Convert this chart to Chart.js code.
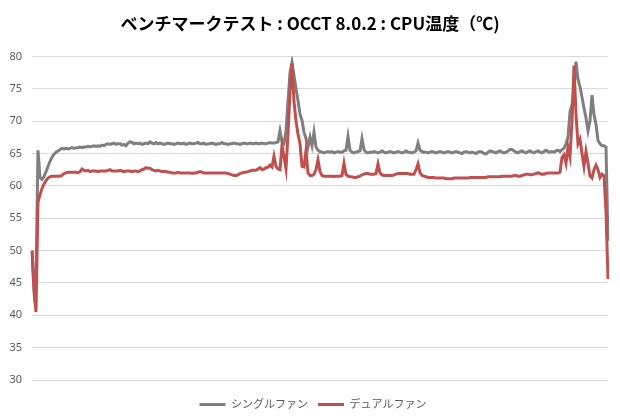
<!DOCTYPE html>
<html>
<head>
<meta charset="utf-8">
<script src="https://cdn.jsdelivr.net/npm/chart.js@4.4.1/dist/chart.umd.min.js"></script>
<style>
  html, body { margin: 0; padding: 0; background: #fff; }
  #wrap { width: 620px; height: 420px; }
</style>
</head>
<body>
<div id="wrap"><canvas id="myChart" width="620" height="420"></canvas></div>
<script>
// series names and y axis ticks
const seriesNames = ['シングルファン', 'デュアルファン'];
const yTicks = [30, 35, 40, 45, 50, 55, 60, 65, 70, 75, 80];

// CPU temperature samples (°C), single fan
const singleFan = [
    50, 44, 46, 65.5, 61.3, 61, 61.4, 62.2, 63, 63.8,
    64.4, 64.9, 65.2, 65.4, 65.6, 65.8, 65.7, 65.8, 65.7, 65.8,
    65.9, 65.8, 65.9, 65.9, 66, 65.9, 66, 66, 66.1, 66,
    66.1, 66.2, 66.1, 66.2, 66.1, 66.3, 66.2, 66.4, 66.5, 66.4,
    66.5, 66.6, 66.4, 66.5, 66.5, 66.3, 66.4, 66.2, 66.6, 66.8,
    66.7, 66.5, 66.6, 66.5, 66.6, 66.4, 66.5, 66.6, 66.5, 66.8,
    66.6, 66.5, 66.7, 66.5, 66.6, 66.5, 66.4, 66.5, 66.6, 66.5,
    66.5, 66.4, 66.5, 66.6, 66.5, 66.5, 66.6, 66.4, 66.5, 66.6,
    66.5, 66.5, 66.6, 66.7, 66.5, 66.5, 66.6, 66.4, 66.5, 66.5,
    66.6, 66.5, 66.4, 66.5, 66.5, 66.7, 66.5, 66.5, 66.4, 66.5,
    66.5, 66.6, 66.5, 66.5, 66.4, 66.5, 66.6, 66.5, 66.5, 66.6,
    66.5, 66.5, 66.6, 66.5, 66.5, 66.6, 66.5, 66.5, 66.6, 66.7,
    66.6, 66.6, 66.7, 66.8, 68.5, 66.8, 66.5, 68.5, 73, 77.5,
    79.1, 77, 75, 73.2, 71.1, 70.1, 68.3, 67.3, 66, 67.5,
    66.2, 68.3, 66, 65.5, 65.3, 65.2, 65.1, 65.2, 65.3, 65.2,
    65.3, 65.1, 65.2, 65.3, 65.2, 65.2, 65.4, 65.5, 67.6, 65.5,
    65.2, 65.1, 65.2, 65.3, 65.4, 67.3, 65.6, 65.2, 65.1, 65.2,
    65.2, 65.3, 65.2, 65.1, 65.2, 65.4, 65.2, 65.1, 65.2, 65.3,
    65.2, 65.1, 65.2, 65.3, 65.2, 65.1, 65.2, 65.4, 65.2, 65.2,
    65.1, 65.2, 65.4, 66.6, 65.5, 65.3, 65.2, 65.2, 65.1, 65.2,
    65.3, 65.2, 65.1, 65.2, 65.3, 65.2, 65.1, 65.2, 65.3, 65.2,
    65.1, 65.2, 65.3, 65.2, 65.1, 65, 65.2, 65.3, 65.2, 65.1,
    65.2, 65.1, 65, 65.2, 65.3, 65.2, 65, 64.9, 65.2, 65.4,
    65.3, 65.2, 65.1, 65.3, 65.4, 65.2, 65.1, 65.2, 65.4, 65.6,
    65.6, 65.4, 65.2, 65.1, 65.3, 65.4, 65.2, 65.1, 65.3, 65.4,
    65.2, 65.1, 65.3, 65.4, 65.2, 65.1, 65.3, 65.5, 65.3, 65.2,
    65.3, 65.2, 65.4, 65.5, 65.3, 65.6, 65.8, 66.5, 67.5, 71.5,
    72.5, 75, 79.2, 76.5, 75.3, 73.7, 72, 70.5, 68.5, 70,
    74, 71, 69.5, 67, 66.5, 66.2, 66.2, 66, 51.5
];

// CPU temperature samples (°C), dual fan
const dualFan = [
    50, 44, 40.5, 57.5, 58.6, 59.6, 60.3, 60.8, 61.2, 61.4,
    61.5, 61.5, 61.5, 61.5, 61.5, 61.6, 61.9, 62, 62.1, 62.1,
    62.1, 62.1, 62.1, 62, 62.2, 62.6, 62.4, 62.3, 62.4, 62.2,
    62.3, 62.3, 62.3, 62.2, 62.3, 62.3, 62.3, 62.3, 62.4, 62.5,
    62.3, 62.3, 62.3, 62.3, 62.4, 62.3, 62.2, 62.3, 62.3, 62.3,
    62.2, 62.3, 62.3, 62.2, 62.3, 62.5, 62.6, 62.8, 62.7, 62.7,
    62.5, 62.4, 62.3, 62.4, 62.3, 62.2, 62.2, 62.2, 62.1, 62.1,
    62, 62, 62, 62.1, 62, 62, 62, 62, 62, 62,
    61.9, 62, 62, 62.1, 62.2, 62.1, 62, 62, 62, 62,
    62, 62, 62, 62, 62, 62, 62, 62, 61.9, 61.8,
    61.7, 61.6, 61.6, 61.7, 61.9, 62, 62.1, 62.1, 62.2, 62.3,
    62.4, 62.4, 62.4, 62.6, 62.8, 62.5, 62.6, 62.8, 62.9, 63.2,
    62.9, 64.6, 63, 62.6, 62.5, 66.2, 64.5, 62.6, 68, 74.5,
    78.9, 73, 70, 68, 66.5, 63, 62.9, 65.5, 62, 61.6,
    61.6, 61.8, 62.5, 64, 62.2, 61.6, 61.5, 61.5, 61.5, 61.5,
    61.5, 61.4, 61.5, 61.5, 61.5, 61.6, 63.5, 61.8, 61.5, 61.4,
    61.4, 61.3, 61.3, 61.4, 61.5, 61.7, 61.8, 61.9, 61.9, 61.8,
    61.8, 61.8, 61.9, 63.4, 62, 61.7, 61.6, 61.6, 61.6, 61.6,
    61.6, 61.7, 61.8, 61.9, 61.9, 61.9, 61.9, 61.9, 61.9, 61.8,
    61.8, 61.8, 62.5, 63.4, 62, 61.6, 61.5, 61.4, 61.3, 61.3,
    61.3, 61.3, 61.2, 61.2, 61.2, 61.2, 61.2, 61.1, 61.1, 61.1,
    61.1, 61.2, 61.2, 61.2, 61.2, 61.2, 61.2, 61.2, 61.2, 61.3,
    61.3, 61.3, 61.3, 61.3, 61.3, 61.3, 61.3, 61.3, 61.4, 61.4,
    61.4, 61.4, 61.4, 61.4, 61.4, 61.5, 61.5, 61.5, 61.5, 61.5,
    61.5, 61.6, 61.6, 61.5, 61.5, 61.6, 61.7, 61.8, 61.8, 61.7,
    61.7, 61.8, 61.9, 62, 61.9, 61.8, 61.8, 61.9, 62, 62,
    62, 62, 62, 62, 62.1, 64.4, 64.8, 63.5, 66, 64.5,
    70, 78.6, 71, 66.5, 67.2, 65, 63, 65.3, 63.5, 61.5,
    61.2, 62.5, 63.2, 62.5, 61.3, 61.8, 61.6, 56, 45.6
];

// sample number, used only as the (hidden) x category
const sampleLabels = singleFan.map((v, i) => i + 1);

const labelFont = "'Noto Sans', 'Noto Sans CJK JP', sans-serif";

// nudge title and legend a little to the right, like the original image
const nudgeBlocks = {
    id: 'nudgeBlocks',
    afterLayout(chart) {
        if (chart.titleBlock) {
            chart.titleBlock.left += 6;
            chart.titleBlock.right += 6;
        }
        if (chart.legend) {
            chart.legend.left += 9;
            chart.legend.right += 9;
        }
    }
};

const config = {
    type: 'line',
    data: {
        labels: sampleLabels,
        datasets: [{
            label: seriesNames[0],
            data: singleFan,
            borderColor: '#7f7f7f',
            backgroundColor: '#7f7f7f',
            borderWidth: 3,
            pointRadius: 0,
            tension: 0,
            order: 2
        }, {
            label: seriesNames[1],
            data: dualFan,
            borderColor: '#c0504d',
            backgroundColor: '#c0504d',
            borderWidth: 3,
            pointRadius: 0,
            tension: 0,
            order: 1
        }]
    },
    options: {
        responsive: false,
        animation: false,
        layout: {
            padding: {left: 0, right: 12, top: 3, bottom: 0}
        },
        scales: {
            x: {
                // no labels, only keeps the gap above the legend
                ticks: {display: false},
                grid: {display: false},
                border: {display: false},
                afterFit: function (scale) {
                    scale.height = 9;
                }
            },
            y: {
                min: 30,
                max: 80,
                afterFit: function (scale) {
                    scale.width = 32;
                },
                afterBuildTicks: function (scale) {
                    scale.ticks = yTicks.map(v => ({value: v}));
                },
                ticks: {
                    padding: 10,
                    color: '#595959',
                    font: {family: labelFont, size: 11}
                },
                grid: {
                    color: '#d9d9d9',
                    lineWidth: 1,
                    drawTicks: false
                },
                border: {
                    display: false
                }
            }
        },
        plugins: {
            title: {
                display: true,
                text: 'ベンチマークテスト : OCCT 8.0.2 : CPU温度（℃)',
                color: '#000',
                font: {family: "'Noto Sans CJK JP', sans-serif", size: 17, weight: 'bold'},
                padding: {top: 10, bottom: 23}
            },
            legend: {
                position: 'bottom',
                reverse: true,
                labels: {
                    usePointStyle: true,
                    pointStyle: 'line',
                    pointStyleWidth: 26,
                    color: '#595959',
                    padding: 10,
                    font: {family: labelFont, size: 11}
                }
            },
            tooltip: {enabled: false}
        }
    },
    plugins: [nudgeBlocks]
};

new Chart(document.getElementById('myChart'), config);
</script>
</body>
</html>
